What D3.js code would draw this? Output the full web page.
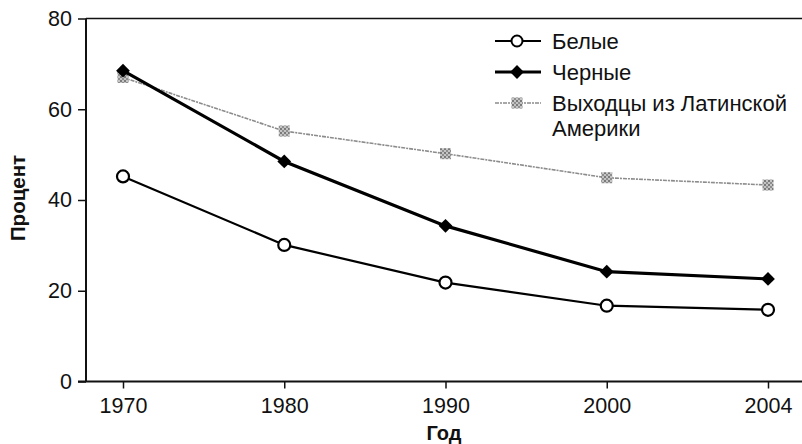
<!DOCTYPE html>
<html>
<head>
<meta charset="utf-8">
<script src="https://cdn.jsdelivr.net/npm/d3@7/dist/d3.min.js"></script>
<style>
  html, body { margin: 0; padding: 0; background: #fff; }
  svg { display: block; font-family: "Liberation Sans", Arial, Helvetica, sans-serif; }
</style>
</head>
<body>
<svg id="chart" width="802" height="444"></svg>
<script>
// Years on the horizontal axis (evenly spaced categories)
const years = ["1970", "1980", "1990", "2000", "2004"];
// Percent values per group
const white = [45.2, 30.1, 21.8, 16.7, 15.8];
const black = [68.5, 48.5, 34.3, 24.2, 22.6];
const hispanic = [67.0, 55.2, 50.2, 44.9, 43.3];
// Y-axis ticks
const yTicks = [0, 20, 40, 60, 80];
// Legend / axis titles
const seriesNames = ["Белые", "Черные", "Выходцы из Латинской|Америки"];
const xTitle = "Год";
const yTitle = "Процент";

const svg = d3.select("#chart");
const plotLeft = 86, plotRight = 802, plotTop = 18.5, plotBottom = 381.5;

const x = d3.scalePoint().domain(years).range([123, 768]);
const y = d3.scaleLinear().domain([0, 80]).range([plotBottom, plotTop]);

// Texture for the grey square markers
const defs = svg.append("defs");
const pat = defs.append("pattern")
  .attr("id", "speckle").attr("width", 4).attr("height", 4)
  .attr("patternUnits", "userSpaceOnUse");
pat.append("rect").attr("width", 4).attr("height", 4).attr("fill", "#c4c4c4");
pat.append("rect").attr("width", 2).attr("height", 2).attr("fill", "#7a7a7a");
pat.append("rect").attr("x", 2).attr("y", 2).attr("width", 2).attr("height", 2).attr("fill", "#8e8e8e");

// Axes
const yAxis = d3.axisLeft(y).tickValues(yTicks).tickSize(8).tickPadding(6);
const gy = svg.append("g").attr("transform", `translate(${plotLeft},0)`).call(yAxis);
gy.select(".domain").remove();
gy.selectAll("text").attr("font-size", 21.5).attr("fill", "#111");
gy.selectAll("line").attr("stroke", "#111").attr("stroke-width", 1.5);

const xAxis = d3.axisBottom(x).tickSize(7).tickPadding(9);
const gx = svg.append("g").attr("transform", `translate(0,${plotBottom})`).call(xAxis);
gx.select(".domain").remove();
gx.selectAll("text").attr("font-size", 21.5).attr("fill", "#111");
gx.selectAll("line").attr("stroke", "#111").attr("stroke-width", 1.5);

// Frame lines: left, bottom and top
svg.append("line").attr("x1", plotLeft).attr("x2", plotLeft).attr("y1", plotTop).attr("y2", plotBottom)
  .attr("stroke", "#111").attr("stroke-width", 2);
svg.append("line").attr("x1", plotLeft - 8).attr("x2", plotRight).attr("y1", plotBottom).attr("y2", plotBottom)
  .attr("stroke", "#111").attr("stroke-width", 2);
svg.append("line").attr("x1", plotLeft).attr("x2", plotRight).attr("y1", plotTop).attr("y2", plotTop)
  .attr("stroke", "#111").attr("stroke-width", 1.5);

// Axis titles
svg.append("text").attr("x", 444).attr("y", 440).attr("text-anchor", "middle")
  .attr("font-size", 20).attr("font-weight", "bold").attr("fill", "#111").text(xTitle);
svg.append("text").attr("transform", `translate(25,${(plotTop + plotBottom) / 2 - 2}) rotate(-90)`)
  .attr("text-anchor", "middle").attr("font-size", 20.5).attr("font-weight", "bold")
  .attr("fill", "#111").text(yTitle);

const line = d3.line().x((d, i) => x(years[i])).y(d => y(d));

// Hispanic series: thin grey textured line with speckled squares
svg.append("path").datum(hispanic).attr("d", line).attr("fill", "none")
  .attr("stroke", "#8c8c8c").attr("stroke-width", 1.6).attr("stroke-dasharray", "4,1,2,1");
svg.selectAll(".sq").data(hispanic).join("rect")
  .attr("x", (d, i) => x(years[i]) - 5.5).attr("y", d => y(d) - 5.5)
  .attr("width", 11).attr("height", 11).attr("fill", "url(#speckle)");

// Black series: heavy line with diamonds
svg.append("path").datum(black).attr("d", line).attr("fill", "none")
  .attr("stroke", "#000").attr("stroke-width", 3.2);
const diamond = d3.symbol().type(d3.symbolSquare).size(95);
svg.selectAll(".dm").data(black).join("path")
  .attr("d", diamond)
  .attr("transform", (d, i) => `translate(${x(years[i])},${y(d)}) rotate(45)`)
  .attr("fill", "#000");

// White series: thinner line with open circles
svg.append("path").datum(white).attr("d", line).attr("fill", "none")
  .attr("stroke", "#000").attr("stroke-width", 2.2);
svg.selectAll(".ci").data(white).join("circle")
  .attr("cx", (d, i) => x(years[i])).attr("cy", d => y(d)).attr("r", 6)
  .attr("fill", "#fff").attr("stroke", "#000").attr("stroke-width", 2.2);

// Legend
const lg = svg.append("g");
const rowsY = [41, 72, 103];
const lx0 = 495, lx1 = 541, lm = 517, tx = 552;
// row 1
lg.append("line").attr("x1", lx0).attr("x2", lx1).attr("y1", rowsY[0]).attr("y2", rowsY[0])
  .attr("stroke", "#000").attr("stroke-width", 2);
lg.append("circle").attr("cx", lm).attr("cy", rowsY[0]).attr("r", 5.5)
  .attr("fill", "#fff").attr("stroke", "#000").attr("stroke-width", 2);
// row 2
lg.append("line").attr("x1", lx0).attr("x2", lx1).attr("y1", rowsY[1]).attr("y2", rowsY[1])
  .attr("stroke", "#000").attr("stroke-width", 3.2);
lg.append("path").attr("d", diamond)
  .attr("transform", `translate(${lm},${rowsY[1]}) rotate(45)`).attr("fill", "#000");
// row 3
lg.append("line").attr("x1", lx0).attr("x2", lx1).attr("y1", rowsY[2]).attr("y2", rowsY[2])
  .attr("stroke", "#8c8c8c").attr("stroke-width", 1.6).attr("stroke-dasharray", "4,1,2,1");
lg.append("rect").attr("x", lm - 5.5).attr("y", rowsY[2] - 5.5).attr("width", 11).attr("height", 11)
  .attr("fill", "url(#speckle)");

seriesNames.forEach((name, i) => {
  const t = lg.append("text").attr("x", tx).attr("y", rowsY[i] + 8)
    .attr("font-size", 22).attr("fill", "#111");
  name.split("|").forEach((part, j) => {
    t.append("tspan").attr("x", tx).attr("dy", j === 0 ? 0 : 25).text(part);
  });
});
</script>
</body>
</html>
